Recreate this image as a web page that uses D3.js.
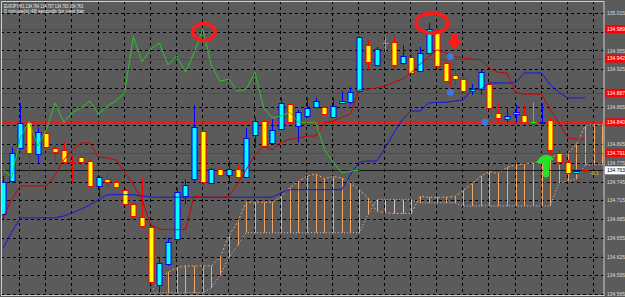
<!DOCTYPE html>
<html>
<head>
<meta charset="utf-8">
<script src="https://cdn.jsdelivr.net/npm/d3@7"></script>
<style>
html, body { margin: 0; padding: 0; background: #5b5b5b; }
svg { display: block; }
</style>
</head>
<body>
<div id="chart"></div>
<script>
// ---- data ----
const headerLine1 = "EURJPY,M1  134.764 134.767 134.763 134.763";
const headerLine2 = "0 minute(s) 48 seconds for next bar";

const opens = [134.692,134.746,134.799,134.840,134.788,134.823,134.799,134.796,134.776,134.784,
  134.778,134.738,134.749,134.744,134.732,134.709,134.688,134.672,134.579,134.613,
  134.653,134.722,134.748,134.826,134.743,134.765,134.756,134.765,134.752,134.820,
  134.842,134.807,134.829,134.869,134.834,134.850,134.864,134.864,134.848,134.871,
  134.872,134.890,134.964,134.932,134.967,134.969,134.935,134.945,134.922,134.951,
  134.988,134.935,134.916,134.909,134.890,134.892,134.901,134.855,134.845,134.853,
  134.852,134.840,134.839,134.844,134.791,134.776,134.759,134.764];
const highs = [134.754,134.800,134.871,134.848,134.832,134.826,134.808,134.808,134.788,134.788,
  134.780,134.754,134.759,134.748,134.735,134.711,134.751,134.676,134.624,134.655,
  134.735,134.749,134.868,134.828,134.767,134.767,134.778,134.772,134.831,134.848,
  134.844,134.845,134.879,134.871,134.860,134.880,134.880,134.866,134.880,134.890,
  134.896,134.978,134.972,134.961,134.977,134.977,134.964,134.953,134.961,134.999,
  134.996,134.937,134.927,134.919,134.901,134.924,134.903,134.871,134.863,134.868,
  134.868,134.872,134.871,134.847,134.796,134.780,134.764,134.767];
const lows = [134.684,134.743,134.796,134.752,134.775,134.797,134.768,134.773,134.744,134.767,
  134.736,134.720,134.736,134.732,134.706,134.684,134.671,134.567,134.567,134.610,
  134.650,134.709,134.744,134.738,134.741,134.754,134.744,134.751,134.751,134.800,
  134.799,134.805,134.828,134.837,134.808,134.848,134.863,134.852,134.847,134.869,
  134.868,134.888,134.924,134.930,134.953,134.927,134.932,134.919,134.920,134.949,
  134.929,134.904,134.900,134.887,134.884,134.884,134.860,134.840,134.840,134.840,
  134.840,134.840,134.839,134.788,134.772,134.757,134.757,134.763];
const closes = [134.744,134.791,134.839,134.791,134.824,134.800,134.792,134.776,134.775,134.776,
  134.738,134.752,134.744,134.736,134.709,134.690,134.674,134.584,134.615,134.648,
  134.728,134.740,134.832,134.744,134.765,134.756,134.765,134.752,134.815,134.842,
  134.802,134.828,134.871,134.840,134.856,134.863,134.874,134.853,134.866,134.874,
  134.888,134.977,134.937,134.957,134.967,134.932,134.946,134.920,134.951,134.989,
  134.930,134.906,134.909,134.890,134.893,134.920,134.863,134.847,134.850,134.856,
  134.840,134.840,134.840,134.796,134.776,134.759,134.762,134.763];

// Ichimoku lines (one value per bar)
const tenkan = [134.687,134.716,134.738,134.738,134.738,134.738,134.756,134.780,134.796,134.807,
  134.807,134.784,134.783,134.780,134.760,134.740,134.716,134.676,134.669,134.668,
  134.668,134.668,134.722,134.720,134.720,134.720,134.722,134.741,134.764,134.788,
  134.802,134.796,134.808,134.813,134.815,134.818,134.818,134.839,134.842,134.848,
  134.853,134.892,134.893,134.895,134.898,134.904,134.909,134.920,134.933,134.945,
  134.956,134.951,134.945,134.943,134.941,134.940,134.927,134.920,134.919,134.888,
  134.885,134.885,134.885,134.860,134.839,134.815,134.813,134.813];
const kijun = [134.638,134.664,134.687,134.687,134.687,134.687,134.687,134.690,134.695,134.701,
  134.708,134.716,134.724,134.724,134.724,134.724,134.722,134.720,134.720,134.720,
  134.720,134.720,134.720,134.720,134.720,134.720,134.720,134.720,134.720,134.720,
  134.720,134.720,134.727,134.732,134.732,134.732,134.732,134.732,134.732,134.732,
  134.756,134.776,134.778,134.778,134.799,134.823,134.845,134.858,134.858,134.871,
  134.872,134.872,134.874,134.876,134.893,134.893,134.903,134.903,134.903,134.903,
  134.919,134.919,134.919,134.900,134.888,134.879,134.879,134.879];
const chikouShift = 26;

// cloud, starting at bar 17 and running past the last bar
const cloudStart = 17;
const spanA = [134.567,134.587,134.600,134.607,134.610,134.610,134.610,134.610,134.624,134.658,
  134.680,134.712,134.712,134.712,134.712,134.721,134.735,134.745,134.754,134.757,
  134.750,134.753,134.751,134.742,134.732,134.719,134.698,134.695,134.694,134.694,
  134.694,134.721,134.720,134.720,134.720,134.721,134.731,134.742,134.754,134.761,
  134.758,134.768,134.772,134.773,134.775,134.775,134.785,134.787,134.790,134.804,
  134.834,134.836,134.836];
const spanB = [134.567,134.567,134.567,134.567,134.567,134.567,134.567,134.575,134.595,134.623,
  134.643,134.663,134.663,134.663,134.663,134.663,134.663,134.663,134.663,134.663,
  134.663,134.663,134.663,134.663,134.663,134.692,134.716,134.716,134.716,134.716,
  134.716,134.711,134.711,134.711,134.711,134.711,134.706,134.706,134.706,134.706,
  134.706,134.706,134.706,134.706,134.706,134.706,134.706,134.743,134.746,134.749,
  134.772,134.772,134.772];

// horizontal levels and axis ticks
const levels = [134.989, 134.942, 134.887, 134.840, 134.791];
const thickLevel = 134.840;
const bid = 134.763;
const priceTicks = [135.015,134.985,134.955,134.925,134.895,134.865,134.835,134.805,
  134.775,134.745,134.715,134.685,134.655,134.625,134.595,134.565];
const gridBars = d3.range(2, 70, 3);
const tradeDots = [[51.5, 134.945], [51.5, 134.888], [55.5, 134.840]];

// ---- layout ----
const W = 625, H = 297, plotRight = 604;
const bg = "#5b5b5b";

const x = d3.scaleLinear().domain([0, 67]).range([3, 585]);
const y = d3.scaleLinear().domain([134.5602, 135.0358]).range([H, 0]);
const px = v => Math.round(x(v)) + 0.5;
const py = v => Math.round(y(v)) + 0.5;

const svg = d3.select("#chart").append("svg")
    .attr("width", W)
    .attr("height", H)
    .style("font-family", "'Liberation Sans', Arial, sans-serif");

svg.append("rect").attr("width", W).attr("height", H).attr("fill", bg);

svg.append("defs").append("clipPath").attr("id", "clip")
  .append("rect").attr("x", 1).attr("y", 1).attr("width", plotRight - 1).attr("height", 294);

const plot = svg.append("g").attr("clip-path", "url(#clip)");

//grid
plot.selectAll(".hgrid")
  .data(priceTicks)
  .join("line")
    .attr("x1", 1).attr("x2", plotRight)
    .attr("y1", d => py(d)).attr("y2", d => py(d))
    .attr("stroke", "#000")
    .attr("stroke-dasharray", "3,3");

plot.selectAll(".vgrid")
  .data(gridBars)
  .join("line")
    .attr("x1", d => px(d) - 1).attr("x2", d => px(d) - 1)
    .attr("y1", 1).attr("y2", H)
    .attr("stroke", "#000")
    .attr("stroke-dasharray", "3,3");

//cloud
const cloud = spanA.map((a, i) => ({ k: cloudStart + i, a: a, b: spanB[i] }));

plot.selectAll(".cloud")
  .data(cloud)
  .join("line")
    .attr("x1", d => px(d.k)).attr("x2", d => px(d.k))
    .attr("y1", d => y(d.a)).attr("y2", d => y(d.b))
    .attr("stroke", d => d.a >= d.b ? "#f4a460" : "#d8bfd8")
    .attr("stroke-width", 1);

const lineGen = d3.line().x(d => x(d.k)).y(d => y(d.v));

plot.append("path")
  .attr("d", lineGen(cloud.map(d => ({ k: d.k, v: d.a }))))
  .attr("fill", "none").attr("stroke", "#f4a460").attr("stroke-dasharray", "2,2");
plot.append("path")
  .attr("d", lineGen(cloud.map(d => ({ k: d.k, v: d.b }))))
  .attr("fill", "none").attr("stroke", "#d8bfd8").attr("stroke-dasharray", "1,2");

//levels
plot.selectAll(".level")
  .data(levels)
  .join("line")
    .attr("x1", 1).attr("x2", plotRight)
    .attr("y1", d => py(d)).attr("y2", d => py(d))
    .attr("stroke", d => d === thickLevel ? "#ff1414" : "#dc1010")
    .attr("stroke-width", d => d === thickLevel ? 2 : 1);

// bid line
plot.append("line")
  .attr("x1", 1).attr("x2", plotRight)
  .attr("y1", py(bid)).attr("y2", py(bid))
  .attr("stroke", "#161616");

//candles
const bars = opens.map((o, i) => ({ k: i, o: o, h: highs[i], l: lows[i], c: closes[i] }));
const lineCol = d => d.c > d.o ? "#0000ff" : d.c < d.o ? "#ff0000" : "#00ff00";
const bodyCol = d => d.c > d.o ? "#00ffff" : "#ffff00";

const candles = plot.append("g").selectAll("g")
  .data(bars)
  .join("g");

candles.append("line")
  .attr("x1", d => px(d.k)).attr("x2", d => px(d.k))
  .attr("y1", d => y(d.h)).attr("y2", d => y(d.l))
  .attr("stroke", lineCol);

candles.filter(d => d.c !== d.o).append("rect")
  .attr("x", d => px(d.k) - 2.5)
  .attr("y", d => Math.round(y(Math.max(d.o, d.c))) + 0.5)
  .attr("width", 5)
  .attr("height", d => Math.max(1, Math.round(Math.abs(y(d.o) - y(d.c)))))
  .attr("fill", bodyCol)
  .attr("stroke", lineCol);

candles.filter(d => d.c === d.o).append("line")
  .attr("x1", d => px(d.k) - 3).attr("x2", d => px(d.k) + 3)
  .attr("y1", d => py(d.o)).attr("y2", d => py(d.o))
  .attr("stroke", "#00ff00");

//indicator lines
plot.append("path")
  .attr("d", lineGen(kijun.map((v, k) => ({ k: k, v: v }))))
  .attr("fill", "none").attr("stroke", "#1414e6");
plot.append("path")
  .attr("d", lineGen(tenkan.map((v, k) => ({ k: k, v: v }))))
  .attr("fill", "none").attr("stroke", "#d20000");
plot.append("path")
  .attr("d", lineGen(closes.slice(chikouShift).map((v, k) => ({ k: k, v: v }))))
  .attr("fill", "none").attr("stroke", "#2cc42c");

//trade markers
plot.append("line")
  .attr("x1", x(tradeDots[0][0])).attr("x2", x(tradeDots[1][0]))
  .attr("y1", y(tradeDots[0][1])).attr("y2", y(tradeDots[1][1]))
  .attr("stroke", "#e01010");
plot.selectAll(".dot")
  .data(tradeDots)
  .join("circle")
    .attr("cx", d => x(d[0])).attr("cy", d => y(d[1]))
    .attr("r", 3.5)
    .attr("fill", "#3f78dd");

//hand drawn marks
plot.append("ellipse")
  .attr("cx", 204).attr("cy", 32).attr("rx", 11).attr("ry", 8.5)
  .attr("fill", "none").attr("stroke", "#ff1a1a").attr("stroke-width", 3.5);
plot.append("ellipse")
  .attr("cx", 432).attr("cy", 23).attr("rx", 16).attr("ry", 10)
  .attr("fill", "none").attr("stroke", "#ff1a1a").attr("stroke-width", 3.5);
plot.append("path")
  .attr("d", "M451,33 L458,33 L458,40 L462,40 L455,50 L447,41 L451,40 Z")
  .attr("fill", "#ff1a1a");
plot.append("path")
  .attr("d", "M536,163 Q544,149 554,159 L550,162 Q549,170 549,176 Q546,179 543,176 L543,164 Z")
  .attr("fill", "#26e02a");

//frame
svg.append("rect")
  .attr("x", 1.5).attr("y", 1.5).attr("width", plotRight - 1.5).attr("height", 294)
  .attr("fill", "none").attr("stroke", "#cfcfcf");

//price axis, labels under a tag are hidden like the terminal does
const tagPrices = levels.concat([bid]);
svg.append("g")
  .attr("transform", `translate(${plotRight + 3},0)`)
  .call(d3.axisRight(y).tickValues(priceTicks).tickSize(0).tickPadding(0).tickFormat(d3.format(".3f")))
  .call(g => g.select(".domain").remove())
  .selectAll("text")
    .attr("fill", "#dcdcdc")
    .style("font-size", "5px")
    .style("visibility", d => tagPrices.some(t => Math.abs(y(t) - y(d)) < 6.5) ? "hidden" : "visible");

const tags = svg.append("g");
levels.forEach(v => {
  tags.append("rect")
    .attr("x", plotRight + 1).attr("y", y(v) - 4).attr("width", 20).attr("height", 8)
    .attr("fill", "#ff0000");
  tags.append("text")
    .attr("x", plotRight + 3).attr("y", y(v) + 1.8)
    .attr("fill", "#fff").style("font-size", "5px")
    .text(v.toFixed(3));
});
tags.append("rect")
  .attr("x", plotRight + 1).attr("y", y(bid) - 4).attr("width", 20).attr("height", 8)
  .attr("fill", "#fff");
tags.append("text")
  .attr("x", plotRight + 3).attr("y", y(bid) + 1.8)
  .attr("fill", "#000").style("font-size", "5px")
  .text(bid.toFixed(3));

svg.append("text")
  .attr("x", 590).attr("y", y(bid) + 4.5)
  .attr("fill", "#e8d000").style("font-size", "5px")
  .text("-0.1");

//header
svg.append("text")
  .attr("x", 4).attr("y", 7.5)
  .attr("fill", "#f0f0f0").style("font-size", "5px")
  .attr("textLength", 79).attr("lengthAdjust", "spacingAndGlyphs")
  .text(headerLine1);
svg.append("text")
  .attr("x", 4).attr("y", 13)
  .attr("fill", "#f0f0f0").style("font-size", "5px")
  .attr("textLength", 80).attr("lengthAdjust", "spacingAndGlyphs")
  .text(headerLine2);
</script>
</body>
</html>
